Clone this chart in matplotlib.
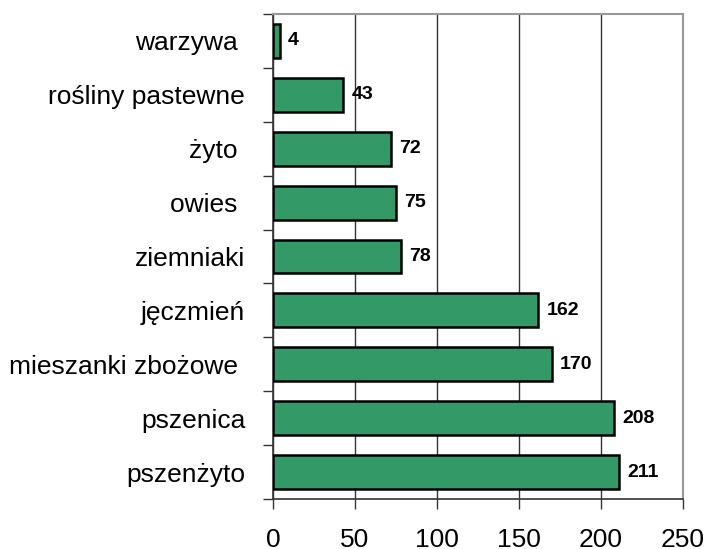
import matplotlib
matplotlib.use("Agg")
import matplotlib.pyplot as plt

categories = ["pszenżyto", "pszenica", "mieszanki zbożowe ", "jęczmień", "ziemniaki",
              "owies ", "żyto ", "rośliny pastewne", "warzywa "]
values = [211, 208, 170, 162, 78, 75, 72, 43, 4]
xticks = [0, 50, 100, 150, 200, 250]

plt.rcParams['font.family'] = ['Liberation Sans', 'DejaVu Sans']

fig = plt.figure(figsize=(7.06, 5.49), dpi=100)
ax = fig.add_axes([0.3867, 0.0911, 0.5803, 0.8834])

y = list(range(len(categories)))
bars = ax.barh(y, values, height=0.63, color="#339966", edgecolor="black", linewidth=1.8, zorder=3)
for yi, v in zip(y, values):
    ax.annotate(str(v), xy=(v, yi), xytext=(6, 0), textcoords="offset points",
                ha="left", va="center", fontsize=14, fontweight="bold", zorder=4)

ax.set_xlim(0, 250)
ax.set_ylim(-0.5, len(categories) - 0.5)
ax.set_xticks(xticks)
ax.set_xticklabels([str(t) for t in xticks], fontsize=19)
ax.xaxis.grid(True, color="#333333", linewidth=1.0, zorder=0)
ax.tick_params(axis='x', direction='out', length=7, width=1, color='#333333', pad=14)

ax.set_yticks([i + 0.5 for i in range(-1, len(categories))], minor=False)
ax.set_yticklabels([])
ax.set_yticks(y, minor=True)
ax.set_yticklabels(categories, minor=True, fontsize=19)
ax.tick_params(axis='y', which='minor', length=0, pad=20)
ax.tick_params(axis='y', which='major', direction='out', length=7, width=1, color='#333333')

for s in ['top', 'right']:
    ax.spines[s].set_color('#999999')
    ax.spines[s].set_linewidth(1.5)
for s in ['left', 'bottom']:
    ax.spines[s].set_color('#333333')
    ax.spines[s].set_linewidth(1.2)

fig.savefig("out.png", dpi=100)
